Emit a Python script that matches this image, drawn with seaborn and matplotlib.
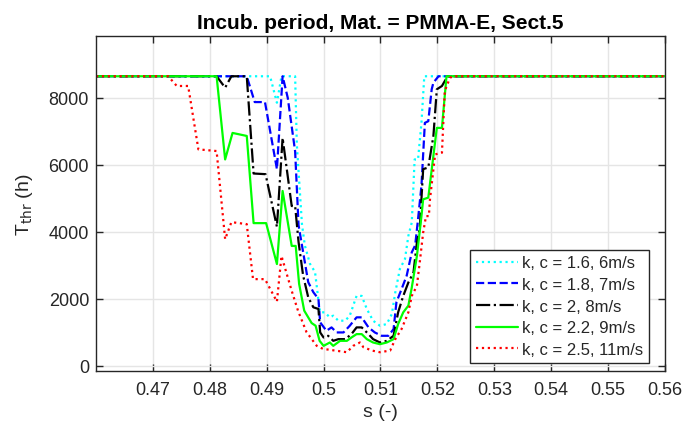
import matplotlib
matplotlib.use("Agg")
import matplotlib.pyplot as plt
import seaborn as sns
import pandas as pd

# Threshold incubation time T_thr (h) versus position s, one curve per (k, c) wind case
labels = ["k, c = 1.6, 6m/s", "k, c = 1.8, 7m/s", "k, c = 2, 8m/s",
          "k, c = 2.2, 9m/s", "k, c = 2.5, 11m/s"]
colors = ["#00FFFF", "#0000FF", "#000000", "#00FF00", "#FF0000"]
styles = [":", "--", "-.", "-", ":"]

s_16 = [0.460, 0.4906, 0.4918, 0.4926, 0.4950, 0.4953, 0.4962, 0.4967, 0.4976,
        0.4985, 0.4991, 0.4994, 0.5002, 0.5011, 0.5017, 0.5026, 0.5038, 0.5046,
        0.5058, 0.5067, 0.5076, 0.5087, 0.5099, 0.5111, 0.5120, 0.5126, 0.5134,
        0.5143, 0.5149, 0.5155, 0.5160, 0.5166, 0.5172, 0.5177, 0.560]
T_16 = [8640, 8640, 7850, 8640, 8640, 6600, 4230, 3600, 3050,
        2800, 1950, 1600, 1600, 1450, 1500, 1350, 1350, 1500,
        2090, 2090, 1700, 1350, 1200, 1250, 1550, 2190, 2890,
        3190, 3880, 4280, 6160, 6160, 7250, 8640, 8640]

s_18 = [0.460, 0.4865, 0.4879, 0.4897, 0.4918, 0.4928, 0.4937, 0.4950, 0.4956,
        0.4966, 0.4973, 0.4982, 0.4991, 0.4994, 0.5005, 0.5014, 0.5023, 0.5035,
        0.5046, 0.5058, 0.5067, 0.5079, 0.5090, 0.5102, 0.5114, 0.5123, 0.5128,
        0.5137, 0.5146, 0.5155, 0.5161, 0.5166, 0.5172, 0.5178, 0.5184, 0.5190,
        0.5193, 0.5202, 0.560]
T_18 = [8640, 8640, 7870, 7870, 5870, 8640, 8000, 6400, 4200,
        3200, 2500, 2200, 2000, 1300, 1050, 1150, 1000, 1000,
        1200, 1450, 1450, 1150, 1000, 900, 900, 1100, 1900,
        2290, 2690, 3390, 3600, 4380, 5370, 7250, 7300, 8250,
        8450, 8640, 8640]

s_20 = [0.460, 0.4812, 0.4827, 0.4838, 0.4865, 0.4877, 0.4898, 0.4918, 0.4928,
        0.4944, 0.4950, 0.4956, 0.4964, 0.4973, 0.4982, 0.4991, 0.4994, 0.5000,
        0.5008, 0.5017, 0.5026, 0.5038, 0.5049, 0.5058, 0.5067, 0.5079, 0.5087,
        0.5099, 0.5111, 0.5123, 0.5131, 0.5140, 0.5149, 0.5158, 0.5164, 0.5169,
        0.5175, 0.5184, 0.5193, 0.5199, 0.5208, 0.5218, 0.560]
T_20 = [8640, 8640, 8300, 8640, 8640, 5740, 5720, 4150, 6800,
        4770, 4770, 3700, 2700, 2050, 1750, 1700, 1000, 850,
        900, 750, 800, 800, 950, 1150, 1150, 950, 800,
        700, 750, 900, 1600, 2090, 2490, 2790, 3680, 4100,
        5870, 5920, 6860, 8250, 8350, 8640, 8640]

s_22 = [0.460, 0.4812, 0.4827, 0.4840, 0.4865, 0.4877, 0.4899, 0.4918, 0.4928,
        0.4944, 0.4951, 0.4957, 0.4966, 0.4979, 0.4986, 0.4993, 0.5000, 0.5011,
        0.5017, 0.5029, 0.5041, 0.5049, 0.5058, 0.5067, 0.5076, 0.5087, 0.5099,
        0.5111, 0.5123, 0.5131, 0.5140, 0.5149, 0.5155, 0.5164, 0.5172, 0.5175,
        0.5184, 0.5199, 0.5208, 0.5216, 0.560]
T_22 = [8640, 8640, 6160, 6950, 6860, 4260, 4260, 3040, 5220,
        3580, 3580, 2450, 1650, 1280, 1200, 750, 600, 700,
        600, 750, 750, 850, 950, 950, 800, 700, 650,
        700, 800, 1250, 1600, 1800, 2340, 3280, 4470, 4970,
        5020, 7100, 7100, 8640, 8640]

s_25 = [0.460, 0.4727, 0.4742, 0.4762, 0.4780, 0.4812, 0.4827, 0.4838, 0.4865,
        0.4876, 0.4897, 0.4918, 0.4926, 0.4944, 0.4955, 0.4970, 0.4988, 0.4999,
        0.5020, 0.5041, 0.5052, 0.5064, 0.5070, 0.5085, 0.5099, 0.5117, 0.5126,
        0.5137, 0.5149, 0.5155, 0.5164, 0.5169, 0.5175, 0.5180, 0.5185, 0.5187,
        0.5196, 0.5208, 0.5213, 0.5222, 0.5227, 0.560]
T_25 = [8640, 8640, 8350, 8350, 6460, 6410, 3780, 4290, 4230,
        2590, 2590, 1920, 3280, 2240, 1650, 1010, 600, 510,
        460, 410, 600, 700, 560, 460, 410, 460, 800,
        1100, 1600, 2090, 2390, 3090, 3980, 4470, 4470, 4970,
        6310, 6360, 8200, 8590, 8640, 8640]

s_series = [s_16, s_18, s_20, s_22, s_25]
T_series = [T_16, T_18, T_20, T_22, T_25]

x_ticks = [0.47, 0.48, 0.49, 0.50, 0.51, 0.52, 0.53, 0.54, 0.55, 0.56]
x_tick_labels = ["0.47", "0.48", "0.49", "0.5", "0.51", "0.52", "0.53",
                 "0.54", "0.55", "0.56"]
y_ticks = [0, 2000, 4000, 6000, 8000]

sns.set_theme(style="whitegrid")
plt.rcParams["font.family"] = ["Liberation Sans", "DejaVu Sans"]

fig = plt.figure(figsize=(6.85, 4.27), dpi=100)
ax = fig.add_axes([0.1401, 0.1288, 0.8307, 0.7845])

for s, T, lab, col, ls in zip(s_series, T_series, labels, colors, styles):
    df = pd.DataFrame({"s": s, "T": T})
    sns.lineplot(data=df, x="s", y="T", ax=ax, color=col, linestyle=ls,
                 linewidth=1.6, label=lab, estimator=None, sort=False)

ax.set_xlim(0.46, 0.56)
ax.set_ylim(-150, 9840)
ax.set_xticks(x_ticks)
ax.set_xticklabels(x_tick_labels)
ax.set_yticks(y_ticks)

ax.set_facecolor("white")
ax.grid(True, color="#e5e5e5", linewidth=1.0)
for sp in ax.spines.values():
    sp.set_visible(True)
    sp.set_color("#262626")
    sp.set_linewidth(1.0)
ax.tick_params(axis="both", which="major", direction="in", length=5, width=1.0,
               color="#262626", labelcolor="#262626", labelsize=13,
               top=True, right=True, bottom=True, left=True)
ax.tick_params(axis="x", pad=7)
ax.tick_params(axis="y", pad=5)

ax.set_title("Incub. period, Mat. = PMMA-E, Sect.5", fontsize=15,
             fontweight="bold", color="black", pad=6)
ax.set_xlabel("s (-)", fontsize=14, color="#262626", labelpad=4)
ax.set_ylabel(r"T$_{\rm thr}$ (h)", fontsize=14, color="#262626", labelpad=10)

leg = ax.legend(loc="lower right", bbox_to_anchor=(0.972, 0.024),
                borderaxespad=0, fontsize=12, frameon=True, fancybox=False,
                edgecolor="#262626", framealpha=1, handlelength=2.5,
                handletextpad=0.25, labelspacing=0.40, borderpad=0.35)
leg.get_frame().set_linewidth(1.0)

fig.savefig("out.png", dpi=100)
